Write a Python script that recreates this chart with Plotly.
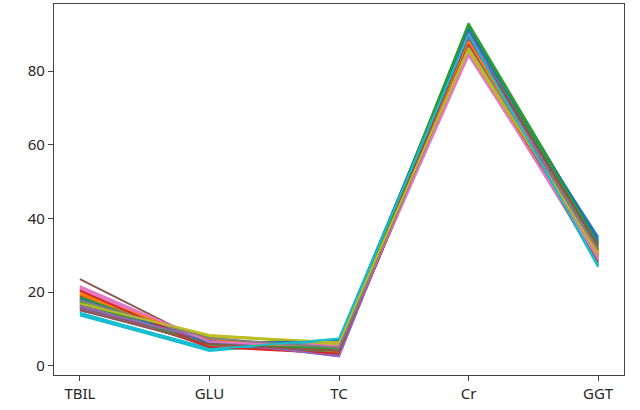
import plotly.graph_objects as go

categories = ["TBIL", "GLU", "TC", "Cr", "GGT"]

tbil = [17.2, 19.8, 18.4, 20.6, 16.2, 23.5, 21.4, 15.6, 17.0, 13.6,
        18.9, 20.2, 17.6, 19.1, 15.0, 16.4, 20.9, 18.1, 16.8, 14.2,
        16.0, 19.4, 18.6, 17.9, 15.3, 15.8, 21.0, 16.6, 17.4, 13.9,
        18.2, 19.6, 17.3, 20.4, 16.1, 15.1, 21.6, 17.8, 16.9, 14.4]
glu = [6.1, 7.2, 6.5, 5.3, 6.8, 5.8, 6.2, 7.0, 8.4, 4.2,
       5.9, 6.9, 5.6, 6.4, 7.4, 5.2, 6.0, 7.6, 7.9, 4.8,
       6.7, 5.5, 6.3, 5.0, 6.0, 6.6, 5.4, 7.3, 8.1, 4.0,
       6.2, 7.1, 5.7, 5.1, 6.9, 5.9, 6.5, 7.5, 8.2, 4.5]
tc = [5.4, 5.0, 4.6, 4.1, 2.6, 3.9, 4.8, 5.2, 6.0, 7.4,
      6.6, 4.3, 5.7, 3.5, 3.0, 4.4, 5.9, 4.0, 6.3, 6.9,
      5.1, 4.9, 3.7, 5.5, 2.9, 4.2, 6.1, 4.5, 5.8, 7.1,
      6.8, 3.8, 4.7, 3.3, 2.5, 4.0, 5.3, 4.9, 6.4, 7.3]
cr = [89.5, 88.2, 93.0, 87.6, 90.1, 88.8, 84.2, 87.0, 86.4, 90.5,
      91.2, 89.0, 92.4, 86.8, 91.0, 89.6, 85.0, 88.4, 85.8, 89.8,
      90.8, 87.8, 92.0, 88.6, 89.2, 87.4, 84.8, 86.0, 85.4, 90.2,
      91.6, 88.0, 92.6, 87.2, 90.4, 89.4, 84.5, 86.6, 86.2, 89.9]
ggt = [35.0, 31.5, 33.8, 28.4, 30.2, 32.4, 29.6, 31.0, 30.8, 26.8,
       34.2, 29.9, 32.8, 27.6, 31.8, 33.2, 28.2, 30.0, 31.2, 27.2,
       34.6, 30.6, 32.0, 28.8, 29.4, 31.4, 28.6, 30.4, 29.0, 27.0,
       33.6, 30.9, 33.0, 28.0, 30.0, 32.6, 29.2, 31.6, 30.2, 27.4]

palette = ["#1f77b4", "#ff7f0e", "#2ca02c", "#d62728", "#9467bd",
           "#8c564b", "#e377c2", "#7f7f7f", "#bcbd22", "#17becf"]

fig = go.Figure()
for i in range(len(tbil)):
    fig.add_trace(go.Scatter(
        x=categories,
        y=[tbil[i], glu[i], tc[i], cr[i], ggt[i]],
        mode="lines",
        line=dict(color=palette[i % 10], width=1.9),
        showlegend=False,
        hoverinfo="skip",
    ))

axis_common = dict(
    showline=True, mirror=True, linecolor="#444444", linewidth=1.2,
    ticks="outside", ticklen=5, tickwidth=1.2, tickcolor="#444444",
    showgrid=False, zeroline=False,
    tickfont=dict(family="Noto Sans", size=15, color="#262626"),
)

fig.update_layout(
    width=640, height=410,
    margin=dict(l=54, r=16, t=4, b=35),
    paper_bgcolor="white", plot_bgcolor="white",
    xaxis=dict(type="category", range=[-0.2, 4.2], **axis_common),
    yaxis=dict(range=[-2.5, 98.2], tickvals=[0, 20, 40, 60, 80], **axis_common),
)

fig.write_html("out.html", config={"displayModeBar": False},
               post_script="document.body.style.margin='0';")
